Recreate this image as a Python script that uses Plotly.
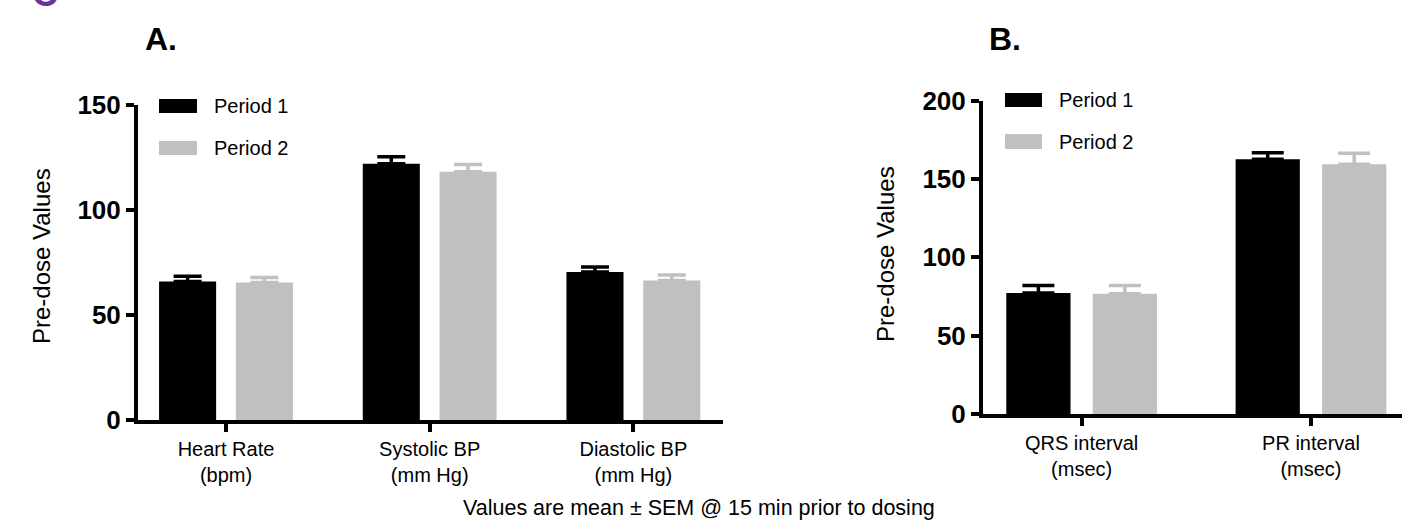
import plotly.graph_objects as go

W, H = 1402, 529

# ---- data ----
cats_a = ["Heart Rate<br>(bpm)", "Systolic BP<br>(mm Hg)", "Diastolic BP<br>(mm Hg)"]
a_p1 = [66.0, 122.0, 70.5]
a_p1_err = [2.4, 3.4, 2.4]
a_p2 = [65.5, 118.2, 66.4]
a_p2_err = [2.4, 3.5, 2.6]

cats_b = ["QRS interval<br>(msec)", "PR interval<br>(msec)"]
b_p1 = [77.2, 162.6]
b_p1_err = [4.8, 4.2]
b_p2 = [76.7, 159.4]
b_p2_err = [5.3, 7.0]

series_names = ["Period 1", "Period 2"]
colors = ["#000000", "#C0C0C0"]

FONT = "Liberation Sans, Arial, Helvetica, sans-serif"


def px(x):
    return x / W


def py(y):
    return 1 - y / H


fig = go.Figure()


def add_bars(cats, vals, errs, name, color, xa, ya, capw):
    fig.add_trace(go.Bar(
        x=cats, y=vals, name=name, marker=dict(color=color, line=dict(width=0)),
        error_y=dict(type="data", array=errs, arrayminus=[0] * len(errs), symmetric=False,
                     color=color, thickness=3.5, width=capw),
        xaxis=xa, yaxis=ya, showlegend=False,
    ))


add_bars(cats_a, a_p1, a_p1_err, series_names[0], colors[0], "x", "y", 14)
add_bars(cats_a, a_p2, a_p2_err, series_names[1], colors[1], "x", "y", 14)
add_bars(cats_b, b_p1, b_p1_err, series_names[0], colors[0], "x2", "y2", 16)
add_bars(cats_b, b_p2, b_p2_err, series_names[1], colors[1], "x2", "y2", 16)

xaxis_common = dict(
    type="category", showline=True, linewidth=4, linecolor="black",
    ticks="outside", ticklen=8, tickwidth=4, tickcolor="black",
    showgrid=False, zeroline=False, automargin=False,
    tickfont=dict(family=FONT, size=20, color="black"),
)
yaxis_common = dict(
    showline=True, linewidth=4, linecolor="black",
    ticks="outside", ticklen=8, tickwidth=4, tickcolor="black",
    showgrid=False, zeroline=False, automargin=False,
    tickfont=dict(family=FONT, size=26, color="black", weight="bold"),
)

fig.update_layout(
    width=W, height=H,
    margin=dict(l=0, r=0, t=0, b=0, pad=0, autoexpand=False),
    paper_bgcolor="white", plot_bgcolor="white",
    barmode="group", bargap=0.246, bargroupgap=0.257,
    xaxis=dict(**xaxis_common, domain=[px(138), px(723)], range=[-0.432, 2.44], anchor="y"),
    yaxis=dict(**yaxis_common, domain=[py(420), py(105)], range=[0, 150],
               tickvals=[0, 50, 100, 150], anchor="x"),
    xaxis2=dict(**xaxis_common, domain=[px(983), 1.0], range=[-0.430, 1.397], anchor="y2"),
    yaxis2=dict(**yaxis_common, domain=[py(414), py(100.7)], range=[0, 200],
                tickvals=[0, 50, 100, 150, 200], anchor="x2"),
)

annotations = []
shapes = []

# y-axis titles
for xc, yc in ((42, 256), (886, 254)):
    annotations.append(dict(
        text="Pre-dose Values", x=px(xc), y=py(yc), xref="paper", yref="paper",
        textangle=-90, showarrow=False, xanchor="center", yanchor="middle",
        font=dict(family=FONT, size=24, color="black"),
    ))

# panel titles
annotations.append(dict(text="<b>A.</b>", x=px(161), y=py(39), xref="paper", yref="paper",
                        showarrow=False, xanchor="center", yanchor="middle",
                        font=dict(family=FONT, size=32, color="black")))
annotations.append(dict(text="<b>B.</b>", x=px(1005), y=py(39), xref="paper", yref="paper",
                        showarrow=False, xanchor="center", yanchor="middle",
                        font=dict(family=FONT, size=32, color="black")))

# cut-off panel letter at top-left (only its lower edge is visible in the original)
annotations.append(dict(text="<b>C</b>", x=px(44.5), y=py(-6), xref="paper", yref="paper",
                        showarrow=False, xanchor="center", yanchor="middle",
                        font=dict(family=FONT, size=36, color="#7030A0")))

# caption
annotations.append(dict(text="Values are mean ± SEM @ 15 min prior to dosing",
                        x=px(699), y=py(508), xref="paper", yref="paper", showarrow=False,
                        xanchor="center", yanchor="middle",
                        font=dict(family=FONT, size=21.5, color="black")))

# custom legends (wide swatches like the original)
legends = [
    dict(x0=159, x1=197, rows=[(99, 113), (141, 155)], tx=212),
    dict(x0=1005, x1=1042, rows=[(93, 107), (134, 149)], tx=1057),
]
for lg in legends:
    for (y0, y1), name, color in zip(lg["rows"], series_names, colors):
        shapes.append(dict(type="rect", xref="paper", yref="paper",
                           x0=px(lg["x0"]), x1=px(lg["x1"]), y0=py(y1), y1=py(y0),
                           fillcolor=color, line=dict(width=0)))
        annotations.append(dict(text=name, x=px(lg["tx"]), y=py((y0 + y1) / 2),
                                xref="paper", yref="paper", showarrow=False,
                                xanchor="left", yanchor="middle",
                                font=dict(family=FONT, size=20, color="black")))

fig.update_layout(annotations=annotations, shapes=shapes)

fig.write_html(
    "out.html",
    config={"displayModeBar": False},
    post_script="document.body.style.margin='0';document.body.style.overflow='hidden';",
)
